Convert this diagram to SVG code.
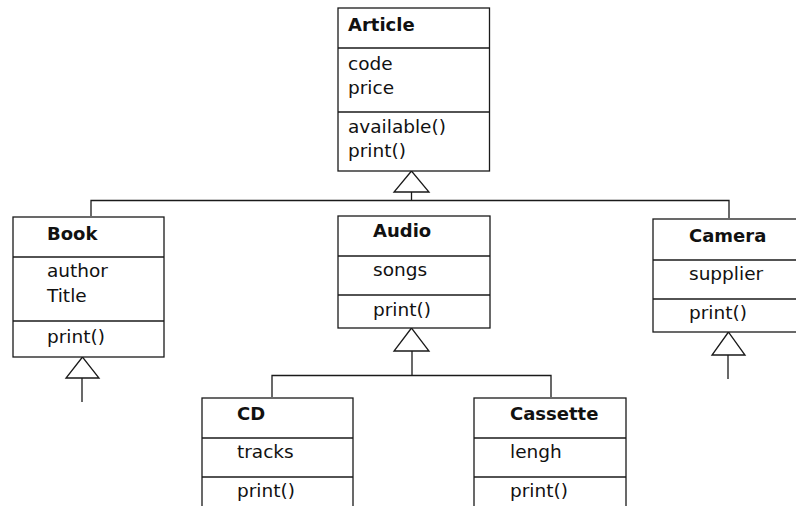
<svg xmlns="http://www.w3.org/2000/svg" width="796" height="506" viewBox="0 0 796 506">
<style>
.box{fill:#fff;stroke:#1a1a1a;stroke-width:1.3}
.sep{stroke:#1a1a1a;stroke-width:1.3}
.con{fill:none;stroke:#1a1a1a;stroke-width:1.3}
.tri{fill:#fff;stroke:#1a1a1a;stroke-width:1.3}
text{font-family:"DejaVu Sans",Verdana,sans-serif;font-size:18.5px;fill:#111}
.t{font-weight:bold;font-size:18px}
</style>
<rect width="796" height="506" fill="#fff"/>
<g id="connectors">
<path class="con" d="M411.5 192V200.5M91 216V200.5H729V218"/>
<path class="con" d="M412 351V375.5M272 397V375.5H551V397"/>
<path class="con" d="M82 378V402M728 355V379"/>
<polygon class="tri" points="411.5,171 394,192 429,192"/>
<polygon class="tri" points="411.5,328 394,351 429,351"/>
<polygon class="tri" points="82.5,357 66,378 99,378"/>
<polygon class="tri" points="728.5,332 712,355 745,355"/>
</g>
<g id="article">
<rect class="box" x="338" y="8" width="151.5" height="163"/>
<line class="sep" x1="338" y1="48" x2="489.5" y2="48"/>
<line class="sep" x1="338" y1="112" x2="489.5" y2="112"/>
<text class="t" x="348" y="31">Article</text>
<text x="348" y="70">code</text>
<text x="348" y="94">price</text>
<text x="348" y="133">available()</text>
<text x="348" y="157">print()</text>
</g>
<g id="book">
<rect class="box" x="13" y="217" width="151" height="140"/>
<line class="sep" x1="13" y1="257" x2="164" y2="257"/>
<line class="sep" x1="13" y1="321" x2="164" y2="321"/>
<text class="t" x="47" y="240">Book</text>
<text x="47" y="277">author</text>
<text x="47" y="302">Title</text>
<text x="47" y="343">print()</text>
</g>
<g id="audio">
<rect class="box" x="338" y="216" width="152" height="112"/>
<line class="sep" x1="338" y1="256" x2="490" y2="256"/>
<line class="sep" x1="338" y1="295" x2="490" y2="295"/>
<text class="t" x="373" y="237">Audio</text>
<text x="373" y="276">songs</text>
<text x="373" y="316">print()</text>
</g>
<g id="camera">
<rect class="box" x="653" y="219" width="160" height="113"/>
<line class="sep" x1="653" y1="260" x2="796" y2="260"/>
<line class="sep" x1="653" y1="299" x2="796" y2="299"/>
<text class="t" x="689" y="242">Camera</text>
<text x="689" y="280">supplier</text>
<text x="689" y="319">print()</text>
</g>
<g id="cd">
<rect class="box" x="202" y="398" width="151" height="130"/>
<line class="sep" x1="202" y1="438" x2="353" y2="438"/>
<line class="sep" x1="202" y1="477" x2="353" y2="477"/>
<text class="t" x="237" y="420">CD</text>
<text x="237" y="458">tracks</text>
<text x="237" y="497">print()</text>
</g>
<g id="cassette">
<rect class="box" x="474" y="398" width="152" height="130"/>
<line class="sep" x1="474" y1="438" x2="626" y2="438"/>
<line class="sep" x1="474" y1="477" x2="626" y2="477"/>
<text class="t" x="510" y="420">Cassette</text>
<text x="510" y="458">lengh</text>
<text x="510" y="497">print()</text>
</g>
</svg>
